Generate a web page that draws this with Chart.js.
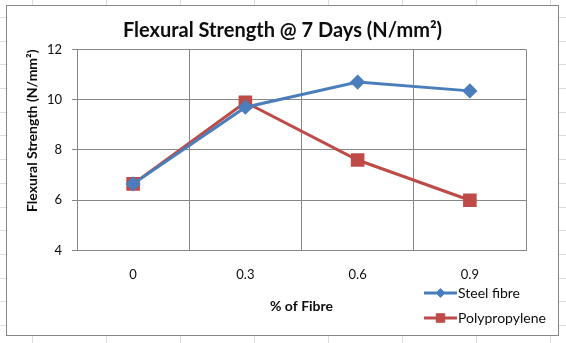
<!DOCTYPE html>
<html>
<head>
<meta charset="utf-8">
<script src="https://cdn.jsdelivr.net/npm/chart.js@4.4.1/dist/chart.umd.min.js"></script>
<style>
  html, body { margin: 0; padding: 0; background: #fff; }
  #wrap { position: relative; width: 566px; height: 343px; }
</style>
</head>
<body>
<div id="wrap"><canvas id="strengthChart" width="566" height="343"></canvas></div>
<script>
const fibreLabels = ['0', '0.3', '0.6', '0.9'];
const steelFibre = [6.65, 9.7, 10.7, 10.35];
const polypropylene = [6.65, 9.9, 7.6, 6.0];
const yMin = 4;
const yMax = 12;
const yStep = 2;

const FONT = 'Lato, "Open Sans", sans-serif';
const GRID = '#878787';
const TEXT = '#0d0d0d';

// worksheet cells behind the chart object, then the chart's white frame
const sheetBackdrop = {
  id: 'sheetBackdrop',
  beforeDraw(chart) {
    const ctx = chart.ctx;
    ctx.save();
    ctx.fillStyle = '#fff';
    ctx.fillRect(0, 0, chart.width, chart.height);
    ctx.strokeStyle = '#d9dce1';
    ctx.lineWidth = 1;
    ctx.beginPath();
    for (let x = 32.5; x < chart.width; x += 74) {
      ctx.moveTo(x, 0);
      ctx.lineTo(x, chart.height);
    }
    for (let y = 17; y < chart.height; y += 23.69) {
      const yy = Math.round(y) + 0.5;
      ctx.moveTo(0, yy);
      ctx.lineTo(chart.width, yy);
    }
    ctx.stroke();
    ctx.fillStyle = '#fff';
    ctx.fillRect(6.5, 5.5, 552, 330);
    ctx.strokeStyle = '#868686';
    ctx.strokeRect(6.5, 5.5, 552, 330);
    ctx.restore();
  }
};

// legend stacked under the right end of the plot, built from the datasets
const sideLegend = {
  id: 'sideLegend',
  afterDraw(chart, args, opts) {
    const ctx = chart.ctx;
    ctx.save();
    ctx.font = opts.font;
    ctx.textBaseline = 'middle';
    chart.data.datasets.forEach((ds, i) => {
      const y = opts.top + i * opts.rowGap;
      ctx.strokeStyle = ds.borderColor;
      ctx.lineWidth = ds.borderWidth;
      ctx.beginPath();
      ctx.moveTo(opts.left, y);
      ctx.lineTo(opts.left + opts.lineLength, y);
      ctx.stroke();
      ctx.fillStyle = ds.pointBackgroundColor;
      ctx.strokeStyle = ds.pointBorderColor;
      ctx.lineWidth = 1;
      Chart.helpers.drawPoint(ctx, {
        pointStyle: ds.pointStyle,
        radius: ds.pointRadius * 0.8,
        borderWidth: 1,
        rotation: 0
      }, opts.left + opts.lineLength / 2, y);
      ctx.fillStyle = TEXT;
      ctx.fillText(ds.label, opts.left + opts.lineLength + 1, y);
    });
    ctx.restore();
  }
};

const ctx = document.getElementById('strengthChart').getContext('2d');
new Chart(ctx, {
  type: 'line',
  data: {
    labels: fibreLabels,
    datasets: [
      {
        label: 'Steel fibre',
        data: steelFibre,
        borderColor: '#4a7ebb',
        backgroundColor: '#4a7ebb',
        pointBackgroundColor: '#4a7ebb',
        pointBorderColor: '#4a7ebb',
        borderWidth: 3,
        pointStyle: 'rectRot',
        pointRadius: 5.5,
        tension: 0
      },
      {
        label: 'Polypropylene',
        data: polypropylene,
        borderColor: '#be4b48',
        backgroundColor: '#be4b48',
        pointBackgroundColor: '#be4b48',
        pointBorderColor: '#be4b48',
        borderWidth: 3,
        pointStyle: 'rect',
        pointRadius: 7.5,
        tension: 0
      }
    ]
  },
  options: {
    responsive: false,
    animation: false,
    layout: { padding: { top: 5, left: 7, right: 8, bottom: 8 } },
    scales: {
      x: {
        offset: true,
        grid: { color: GRID, offset: true, drawTicks: false },
        border: { color: GRID },
        ticks: { padding: 17, color: TEXT, font: { family: FONT, size: 13 } },
        title: {
          display: true,
          text: '% of Fibre',
          color: TEXT,
          font: { family: FONT, size: 14, weight: 'bold' },
          padding: { top: 0, bottom: 20.5 }
        },
        afterFit(s) { s.height = 84.5; }
      },
      y: {
        min: yMin,
        max: yMax,
        ticks: { stepSize: yStep, padding: 10, color: TEXT, font: { family: FONT, size: 13 } },
        grid: { color: GRID, tickLength: 5 },
        border: { color: GRID },
        title: {
          display: true,
          text: 'Flexural Strength (N/mm²)',
          align: 'end',
          color: TEXT,
          font: { family: FONT, size: 14, weight: 'bold' },
          padding: { top: 17.5, bottom: 0 }
        },
        afterFit(s) { s.width = 70; }
      },
      // empty right-hand axis keeps the plot clear of the frame's right side
      gap: {
        position: 'right',
        display: true,
        grid: { display: false },
        border: { display: false },
        ticks: { display: false },
        afterFit(s) { s.width = 32; }
      }
    },
    plugins: {
      legend: { display: false },
      tooltip: { enabled: false },
      title: {
        display: true,
        text: 'Flexural Strength @ 7 Days (N/mm²)',
        color: TEXT,
        font: { family: FONT, size: 20, weight: 'bold' },
        padding: { top: 14, bottom: 6.4 }
      },
      sideLegend: { left: 424, top: 293, rowGap: 25, lineLength: 33, font: '14px ' + FONT }
    }
  },
  plugins: [sheetBackdrop, sideLegend]
});
</script>
</body>
</html>
